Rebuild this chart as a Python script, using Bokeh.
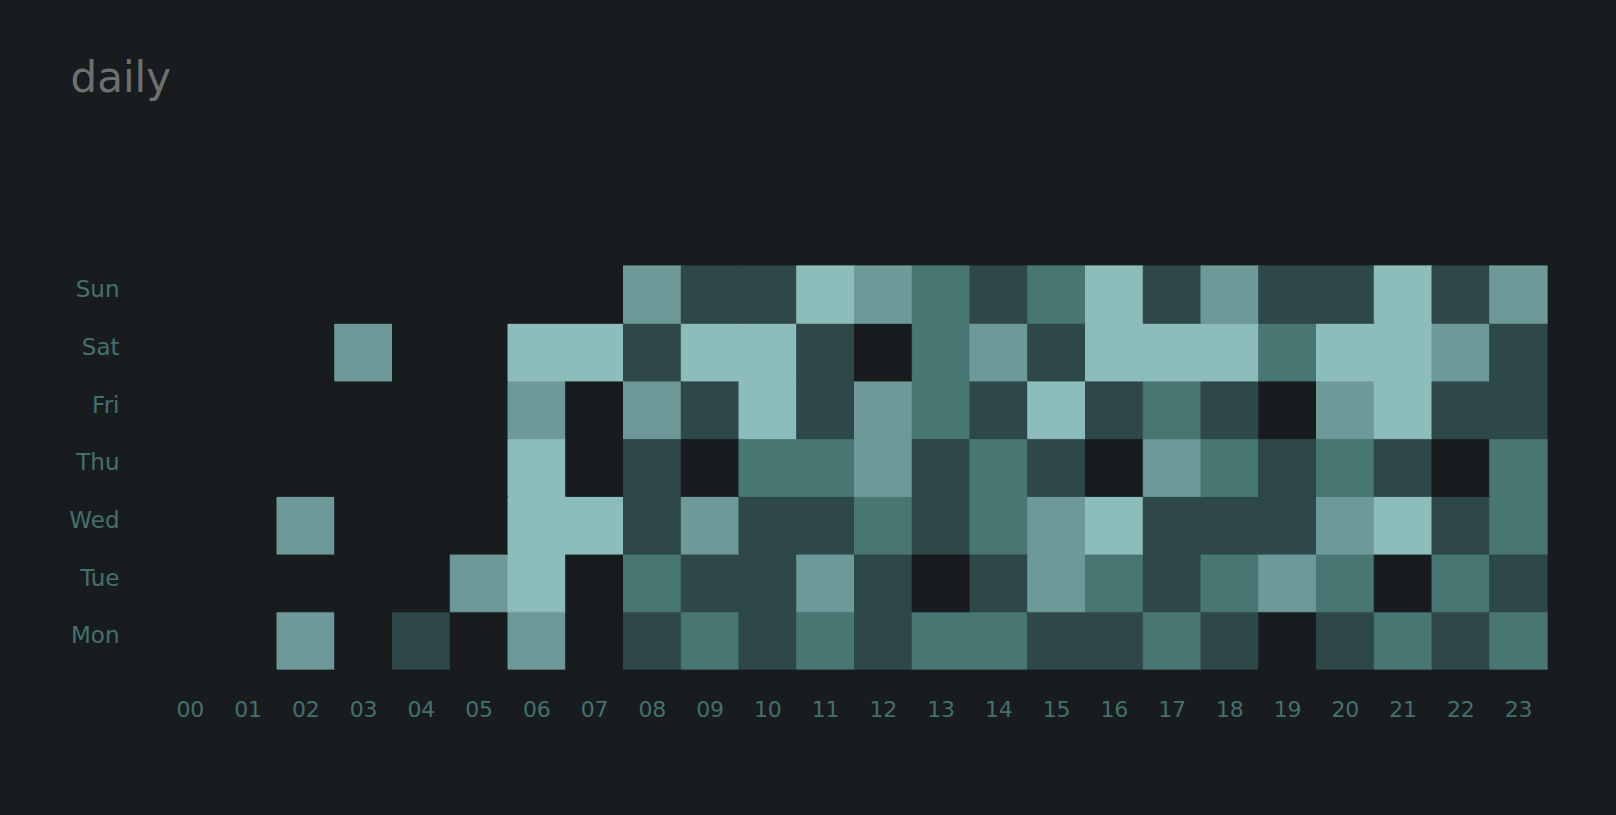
from bokeh.plotting import figure
from bokeh.models import ColumnDataSource, FactorRange, Range1d, FixedTicker, Title
from bokeh.embed import file_html
from bokeh.resources import INLINE

# ---- data (activity level 0..4 per hour, per day) ----
hours = ["%02d" % h for h in range(24)]
days = ["Mon", "Tue", "Wed", "Thu", "Fri", "Sat", "Sun"]

mon = [0, 0, 3, 0, 1, 0, 3, 0, 1, 2, 1, 2, 1, 2, 2, 1, 1, 2, 1, 0, 1, 2, 1, 2]
tue = [0, 0, 0, 0, 0, 3, 4, 0, 2, 1, 1, 3, 1, 0, 1, 3, 2, 1, 2, 3, 2, 0, 2, 1]
wed = [0, 0, 3, 0, 0, 0, 4, 4, 1, 3, 1, 1, 2, 1, 2, 3, 4, 1, 1, 1, 3, 4, 1, 2]
thu = [0, 0, 0, 0, 0, 0, 4, 0, 1, 0, 2, 2, 3, 1, 2, 1, 0, 3, 2, 1, 2, 1, 0, 2]
fri = [0, 0, 0, 0, 0, 0, 3, 0, 3, 1, 4, 1, 3, 2, 1, 4, 1, 2, 1, 0, 3, 4, 1, 1]
sat = [0, 0, 0, 3, 0, 0, 4, 4, 1, 4, 4, 1, 0, 2, 3, 1, 4, 4, 4, 2, 4, 4, 3, 1]
sun = [0, 0, 0, 0, 0, 0, 0, 0, 3, 1, 1, 4, 3, 2, 1, 2, 4, 1, 3, 1, 1, 4, 1, 3]

BG = "#181c1f"
level_colors = [BG, "#2e4749", "#487673", "#6d9a98", "#8dbdbb"]

# ---- build table ----
rows = [mon, tue, wed, thu, fri, sat, sun]
xs, ys, lv, cs = [], [], [], []
for di, vals in enumerate(rows):
    for h, v in zip(hours, vals):
        xs.append(h)
        ys.append(di + 0.5)
        lv.append(v)
        cs.append(level_colors[v])
src = ColumnDataSource(dict(hour=xs, day=ys, level=lv, color=cs))

LABEL = "#44706d"
FONT = "DejaVu Sans"

p = figure(width=1616, height=815, title=None,
           x_range=FactorRange(*hours), y_range=Range1d(0, len(days)),
           output_backend="svg", toolbar_location=None,
           min_border_left=161, min_border_right=69,
           min_border_top=265, min_border_bottom=146)
p.styles = {"background-color": BG}
p.background_fill_color = BG
p.border_fill_color = BG
p.outline_line_color = None
p.grid.grid_line_color = None

# cells; a hairline in the cell's own colour closes antialiasing seams
p.rect(x="hour", y="day", width=1, height=1, source=src,
       fill_color="color", line_color="color", line_width=1)

# spacer between the plot and the title, then the title itself
spacer = Title(text=" ", text_font=FONT, text_font_size="10px", standoff=151)
p.add_layout(spacer, "above")
title = Title(text="daily", text_font=FONT, text_font_size="42px",
              text_font_style="normal", text_color="#6d7071",
              align="left", offset=-91, standoff=0)
p.add_layout(title, "above")

# day labels sit slightly above each row centre
ytick_pos = [i + 0.59 for i in range(len(days))]
p.yaxis.ticker = FixedTicker(ticks=ytick_pos)
p.yaxis.major_label_overrides = {t: d for t, d in zip(ytick_pos, days)}

for ax in (p.xaxis, p.yaxis):
    ax.axis_line_color = None
    ax.major_tick_line_color = None
    ax.minor_tick_line_color = None
    ax.major_tick_out = 0
    ax.major_tick_in = 0
    ax.major_label_text_color = LABEL
    ax.major_label_text_font = FONT

p.xaxis.major_label_text_font_size = "22px"
p.xaxis.major_label_standoff = 31
p.yaxis.major_label_text_font_size = "23px"
p.yaxis.major_label_standoff = 42

open("out.html", "w").write(file_html(p, INLINE))
